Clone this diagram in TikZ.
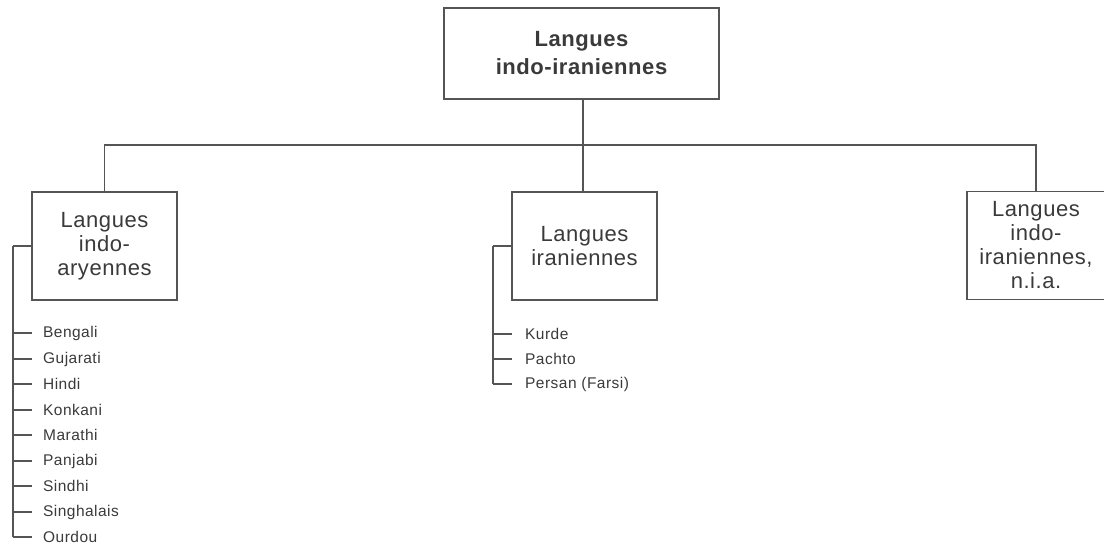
\documentclass[tikz,border=0pt]{standalone}
\usepackage{fontspec}
\setmainfont{Liberation Sans}
\newfontfamily\boxfont[LetterSpace=2.5]{Liberation Sans}
\newfontfamily\itemfont[LetterSpace=3]{Liberation Sans}
\definecolor{linec}{HTML}{555555}
\definecolor{textc}{HTML}{3A3A3A}
\begin{document}
\begin{tikzpicture}[x=1pt,y=-1pt,
  catbox/.style={draw=linec,line width=1.6pt,rectangle,inner sep=0pt,align=center,
    text=textc,font=\boxfont\fontsize{22}{24}\selectfont},
  topbox/.style={catbox,font=\boxfont\bfseries\fontsize{22}{28}\selectfont},
  item/.style={anchor=west,inner sep=0pt,text=textc,font=\itemfont\fontsize{15.5}{15.5}\selectfont},
  conn/.style={draw=linec,line width=1.3pt}]
\useasboundingbox (0,0) rectangle (1104,548);
\begin{scope}
\clip (0,0) rectangle (1104,548);
\node[topbox,minimum width=275pt,minimum height=91pt] (top) at (581.5,53.5) {Langues\\indo-iraniennes};
\node[catbox,minimum width=145pt,minimum height=108pt] (ia) at (104.5,246) {Langues\\indo-\\aryennes};
\node[catbox,minimum width=145pt,minimum height=108pt] (ir) at (584.5,246) {Langues\\iraniennes};
\node[catbox,minimum width=138pt,minimum height=108pt] (nia) at (1036,245.5) {Langues\\indo-\\iraniennes,\\n.i.a.};
\end{scope}
\coordinate (hb) at (583,145);
\draw[conn] (top.south -| hb) -- (hb);
\draw[conn] (ia.north) |- (hb) -| (nia.north);
\draw[conn] (hb) -- (ir.north -| hb);
% indo-aryennes list
\coordinate (la) at (13,246);
\draw[conn] (ia.west) -- (la);
\foreach \t/\y [count=\i from 0] in {Bengali/333,Gujarati/359,Hindi/384,Konkani/410,Marathi/435,Panjabi/461,Sindhi/486,Singhalais/512,Ourdou/537}{
  \node[item] (a\i) at (43,\y) {\t};
  \coordinate (at\i) at (13,\y);
  \draw[conn] (at\i) -- ++(19,0);
}
\draw[conn] (la) -- (at8);
% iraniennes list
\coordinate (lr) at (493,246);
\draw[conn] (ir.west) -- (lr);
\foreach \t/\y [count=\i from 0] in {Kurde/334,Pachto/359,Persan (Farsi)/384}{
  \node[item] (r\i) at (525,\y) {\t};
  \coordinate (rt\i) at (493,\y);
  \draw[conn] (rt\i) -- ++(19,0);
}
\draw[conn] (lr) -- (rt2);
\end{tikzpicture}
\end{document}
